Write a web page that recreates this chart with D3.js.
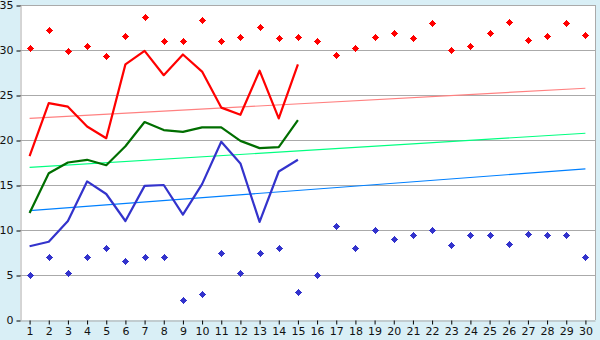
<!DOCTYPE html>
<html><head><meta charset="utf-8">
<script src="https://cdn.jsdelivr.net/npm/d3@7"></script>
<style>
html,body{margin:0;padding:0;background:#d9eff6;}
svg{display:block;}
text{font-family:"DejaVu Sans",Verdana,sans-serif;}
</style></head>
<body>
<svg id="c" width="600" height="340"></svg>
<script>
const days = d3.range(1, 31);
const yTicks = [0, 5, 10, 15, 20, 25, 30, 35];
const redMax = [30.2,32.2,29.9,30.5,29.3,31.6,33.7,31.0,31.0,33.3,31.0,31.4,32.5,31.3,31.4,31.0,29.4,30.2,31.4,31.9,31.3,33.0,30.0,30.4,31.9,33.1,31.1,31.5,33.0,31.7];
const blueMin = [5.0,7.0,5.2,7.0,8.0,6.6,7.0,7.0,2.2,2.9,7.4,5.2,7.4,8.0,3.1,5.0,10.4,8.0,10.0,9.0,9.4,10.0,8.3,9.5,9.4,8.5,9.6,9.5,9.4,7.0];
const redLine = [18.2,24.1,23.7,21.5,20.2,28.4,29.9,27.2,29.5,27.6,23.6,22.8,27.7,22.4,28.4];
const greenLine = [11.9,16.3,17.5,17.8,17.2,19.3,22.0,21.1,20.9,21.4,21.4,19.9,19.1,19.2,22.2];
const blueLine = [8.2,8.7,11.0,15.4,14.0,11.0,14.9,15.0,11.7,15.1,19.8,17.4,10.9,16.5,17.8];
const redTrend = [22.4, 25.75];
const greenTrend = [16.95, 20.75];
const blueTrend = [12.15, 16.8];

const svg = d3.select("#c");
const L = 20, R = 595, T = 5, B = 320;
const x = d3.scalePoint().domain(days).range([L, R]).padding(0.5);
const y = d3.scaleLinear().domain([0, 35]).range([B, T]);

svg.append("rect").attr("x", L).attr("y", T).attr("width", R - L).attr("height", B - T).attr("fill", "#fff");

// grid
svg.append("g").selectAll("line").data(yTicks.filter(d => d > 0)).join("line")
  .attr("x1", L).attr("x2", R).attr("y1", d => y(d) + 0.5).attr("y2", d => y(d) + 0.5)
  .attr("stroke", "#aaaaaa").attr("stroke-width", 1);
// border right
svg.append("line").attr("x1", R + 0.5).attr("x2", R + 0.5).attr("y1", T).attr("y2", B)
  .attr("stroke", "#aaaaaa");

// axes
const xa = svg.append("g").attr("transform", `translate(0,${B + 0.5})`)
  .call(d3.axisBottom(x).tickSize(4).tickSizeOuter(0).tickPadding(3));
const ya = svg.append("g").attr("transform", `translate(${L + 0.5},0)`)
  .call(d3.axisLeft(y).tickValues(yTicks).tickSize(4).tickSizeOuter(0).tickPadding(3));
[xa, ya].forEach(a => {
  a.select(".domain").attr("stroke", "#aaaaaa");
  a.selectAll(".tick line").attr("stroke", "#000");
  a.selectAll("text").attr("font-size", 11).attr("fill", "#111")
    .attr("font-family", "DejaVu Sans, Verdana, sans-serif");
});
ya.selectAll(".tick line").attr("transform", "translate(0,0.5)");

// trend lines
const trends = [[redTrend, "#ff8080"], [greenTrend, "#00ff80"], [blueTrend, "#0080ff"]];
trends.forEach(([t, c]) => {
  svg.append("line").attr("x1", x(days[0])).attr("x2", x(days[days.length - 1]))
    .attr("y1", y(t[0])).attr("y2", y(t[1])).attr("stroke", c).attr("stroke-width", 1.2);
});

// lines
const line = d3.line().x((d, i) => x(days[i])).y(d => y(d));
[[redLine, "#ff0000"], [greenLine, "#006e00"], [blueLine, "#3333cc"]].forEach(([s, c]) => {
  svg.append("path").attr("d", line(s)).attr("fill", "none").attr("stroke", c)
    .attr("stroke-width", 2.2).attr("stroke-linejoin", "round");
});

// markers (small pixel diamond/cross)
const mk = "M-0.5,-3.5H0.5V-2.5H1.5V-1.5H2.5V-0.5H3.5V0.5H2.5V1.5H1.5V2.5H0.5V3.5H-0.5V2.5H-1.5V1.5H-2.5V0.5H-3.5V-0.5H-2.5V-1.5H-1.5V-2.5H-0.5Z";
[[redMax, "#ff0000"], [blueMin, "#3333cc"]].forEach(([s, c]) => {
  svg.append("g").selectAll("path").data(s).join("path")
    .attr("d", mk).attr("fill", c).attr("shape-rendering", "crispEdges")
    .attr("transform", (d, i) => `translate(${Math.round(x(days[i]))},${Math.round(y(d))})`);
});
</script>
</body></html>
